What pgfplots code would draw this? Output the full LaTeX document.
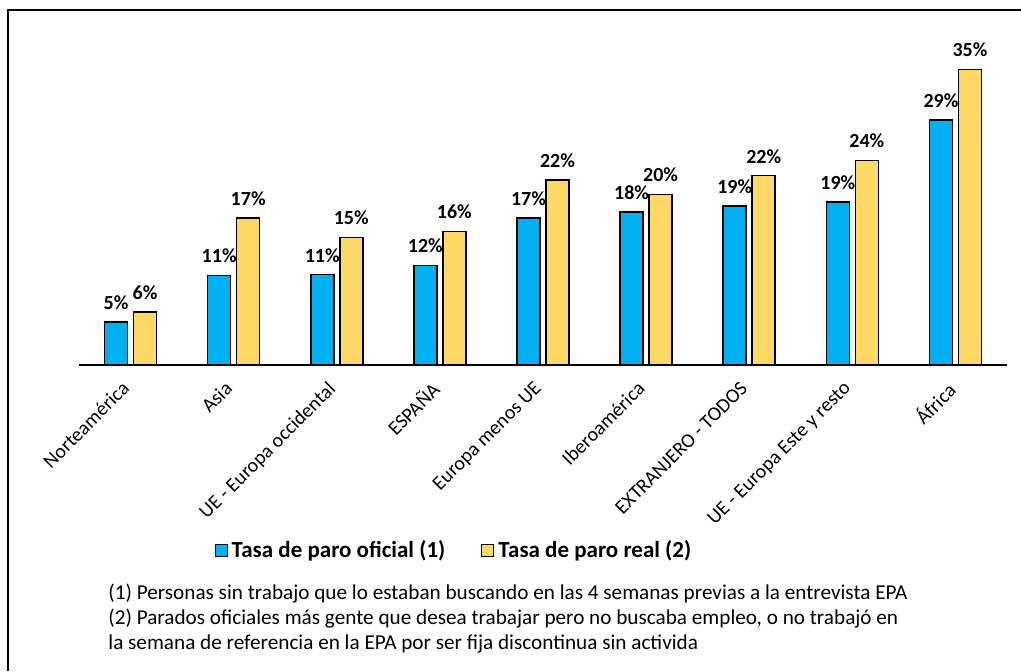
\documentclass[border=0pt]{standalone}
\usepackage{pgfplots}
\pgfplotsset{compat=1.18}
\usepackage{pgfplotstable}
\usepackage{fontspec}
\setmainfont{Carlito}

\definecolor{azul}{HTML}{00B0F0}
\definecolor{amarillo}{HTML}{FFD966}

% tasas de paro por origen (%)
\pgfplotstableread{
x oficial real
0 5.1 6.3
1 10.6 17.4
2 10.7 15.1
3 11.8 15.8
4 17.4 21.9
5 18.1 20.2
6 18.8 22.4
7 19.3 24.2
8 29.0 35.0
}\datos

\begin{document}
\begin{tikzpicture}
\useasboundingbox (0,0) rectangle (510.5pt,335.5pt);
% marco
\draw[line width=1pt] (4pt,0) -- (4pt,330.5pt) -- (510.5pt,330.5pt);

\begin{axis}[
    at={(39.5pt,153pt)}, anchor=south west,
    scale only axis,
    width=464pt, height=169pt,
    xmin=-0.5, xmax=8.5,
    ymin=0, ymax=40,
    axis x line*=bottom,
    axis y line=none,
    x axis line style={line width=1pt},
    ytick=\empty,
    xtick={0,...,8},
    major tick length=0pt,
    xticklabels={Norteamérica, Asia, UE - Europa occidental, ESPAÑA, Europa menos UE, Iberoamérica, EXTRANJERO - TODOS, UE - Europa Este y resto, África},
    x tick label style={xshift=-5pt, yshift=-6pt, rotate=45, anchor=north east, font=\fontsize{10}{12}\selectfont, inner sep=1pt},
    ybar=3pt,
    bar width=11.5pt,
    nodes near coords={\pgfmathprintnumber[fixed,precision=0]{\pgfplotspointmeta}\%},
    every node near coord/.append style={font=\bfseries\fontsize{10}{12}\selectfont, yshift=2.5pt},
    /pgf/number format/assume math mode=true,
    legend style={at={(axis description cs:0.405,-0.548)}, anchor=center, draw=none,
        legend columns=2, font=\bfseries\fontsize{11.5}{14}\selectfont,
        /tikz/every even column/.append style={column sep=16pt}},
    legend image code/.code={\draw[#1, line width=0.6pt] (0pt,-3pt) rectangle (6pt,3pt);},
]
\addplot[fill=azul, draw=black, line width=0.75pt] table[x=x, y=oficial]{\datos};
\addplot[fill=amarillo, draw=black, line width=0.75pt] table[x=x, y=real]{\datos};
\legend{Tasa de paro oficial (1), Tasa de paro real (2)}
\end{axis}

% notas
\begin{scope}[every node/.style={anchor=base west, inner sep=0pt, font=\fontsize{10.6}{12}\selectfont}]
\node at (54pt,36pt) {(1) Personas sin trabajo que lo estaban buscando en las 4 semanas previas a la entrevista EPA};
\node at (54pt,23.5pt) {(2) Parados oficiales más gente que desea trabajar pero no buscaba empleo, o no trabajó en};
\node at (54pt,11pt) {la semana de referencia en la EPA por ser fija discontinua sin activida};
\end{scope}
\end{tikzpicture}
\end{document}
